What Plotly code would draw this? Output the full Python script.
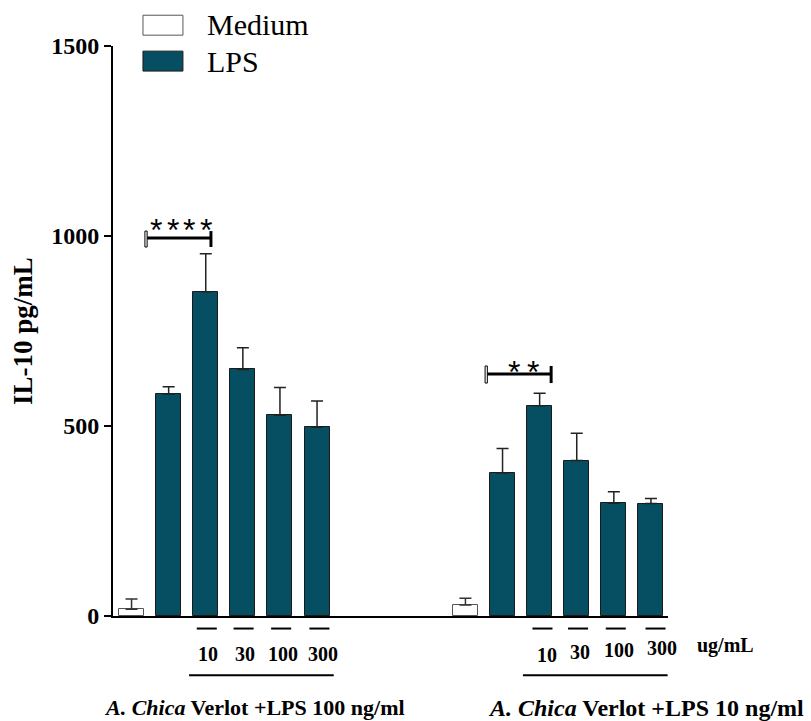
import plotly.graph_objects as go

# ---------------- data ----------------
doses = ["10", "30", "100", "300"]
group_labels = ["<i>A. Chica</i> Verlot +LPS 100 ng/ml", "<i>A. Chica</i> Verlot +LPS 10 ng/ml"]
unit_label = "ug/mL"

g1_medium = [18]
g1_medium_err = [27]
g1_lps = [584, 853, 649, 528, 497]
g1_lps_err = [19, 100, 57, 73, 69]

g2_medium = [29]
g2_medium_err = [18]
g2_lps = [376, 553, 409, 297, 296]
g2_lps_err = [65, 33, 72, 30, 13]

sig_g1 = "****"
sig_g2 = "**"

# ---------------- layout helpers ----------------
g1_x = [0, 1, 2, 3, 4, 5]
g2_x = [9, 10, 11, 12, 13, 14]
XMIN, XMAX = -0.5, 14.46
BAR_W = 0.674
TEAL = "#064F62"
SERIF = "Liberation Serif"

def d2p(u):
    return (u - XMIN) / (XMAX - XMIN)

fig = go.Figure()
fig.add_trace(go.Bar(
    x=[g1_x[0], g2_x[0]], y=g1_medium + g2_medium, width=BAR_W, name="Medium",
    marker=dict(color="white", line=dict(color="#555555", width=1)),
    error_y=dict(type="data", symmetric=False, array=g1_medium_err + g2_medium_err,
                 arrayminus=[0, 0], color="#333333", thickness=1.5, width=6),
    showlegend=False))
fig.add_trace(go.Bar(
    x=g1_x[1:] + g2_x[1:], y=g1_lps + g2_lps, width=BAR_W, name="LPS",
    marker=dict(color=TEAL, line=dict(color="#1a1a1a", width=1)),
    error_y=dict(type="data", symmetric=False, array=g1_lps_err + g2_lps_err,
                 arrayminus=[0] * 10, color="#222222", thickness=1.5, width=6),
    showlegend=False))

shapes = []
annotations = []

# legend (manual)
shapes.append(dict(type="rect", xref="paper", yref="paper", x0=0.054, x1=0.126, y0=1.019, y1=1.054,
                   fillcolor="white", line=dict(color="#555555", width=1)))
shapes.append(dict(type="rect", xref="paper", yref="paper", x0=0.054, x1=0.126, y0=0.956, y1=0.991,
                   fillcolor=TEAL, line=dict(color="#1a1a1a", width=1)))
annotations.append(dict(text="Medium", xref="paper", yref="paper", x=0.166, y=1.037, xanchor="left",
                        yanchor="middle", showarrow=False, font=dict(family=SERIF, size=30, color="black")))
annotations.append(dict(text="LPS", xref="paper", yref="paper", x=0.166, y=0.973, xanchor="left",
                        yanchor="middle", showarrow=False, font=dict(family=SERIF, size=30, color="black")))

# y-axis title
annotations.append(dict(text="<b>IL-10 pg/mL</b>", xref="paper", yref="paper", x=-0.162, y=0.5,
                        textangle=-90, showarrow=False, xanchor="center", yanchor="middle",
                        font=dict(family=SERIF, size=27, color="black")))

# dose dashes, labels, underline
label_dx_g1 = [0.07, 0.05, 0.08, 0.16]
label_dx_g2 = [0.19, 0.09, 0.13, 0.31]
label_y_g1 = [-0.067, -0.067, -0.067, -0.067]
label_y_g2 = [-0.069, -0.064, -0.060, -0.056]
for xs, dxs, lys in ((g1_x[2:], label_dx_g1, label_y_g1), (g2_x[2:], label_dx_g2, label_y_g2)):
    for xv, dx, ly, lab in zip(xs, dxs, lys, doses):
        shapes.append(dict(type="line", xref="paper", yref="paper", x0=d2p(xv - 0.27 + dx * 0.4),
                           x1=d2p(xv + 0.27 + dx * 0.4), y0=-0.022, y1=-0.022,
                           line=dict(color="black", width=2)))
        annotations.append(dict(text="<b>" + lab + "</b>", xref="paper", yref="paper", x=d2p(xv + dx),
                                y=ly, xanchor="center", yanchor="middle", showarrow=False,
                                font=dict(family=SERIF, size=20, color="black")))
    shapes.append(dict(type="line", xref="paper", yref="paper", x0=d2p(xs[0] - 0.45), x1=d2p(xs[-1] + 0.45),
                       y0=-0.104, y1=-0.104, line=dict(color="black", width=2)))

annotations.append(dict(text="<b>" + unit_label + "</b>", xref="paper", yref="paper", x=1.104, y=-0.051,
                        xanchor="center", yanchor="middle", showarrow=False,
                        font=dict(family=SERIF, size=20, color="black")))

# group labels
for xp, txt, fs in ((0.255, group_labels[0], 22), (0.961, group_labels[1], 24)):
    annotations.append(dict(text="<b>" + txt + "</b>", xref="paper", yref="paper", x=xp, y=-0.161,
                            xanchor="center", yanchor="middle", showarrow=False,
                            font=dict(family=SERIF, size=fs, color="black")))

# significance brackets
def bracket(x0, x1, yv, ycap0, ycap1, stars, star_x0, star_dx, star_y):
    shapes.append(dict(type="line", xref="x", yref="y", x0=x0, x1=x1, y0=yv, y1=yv,
                       line=dict(color="black", width=3)))
    shapes.append(dict(type="rect", xref="x", yref="y", x0=x0 - 0.03, x1=x0 + 0.03, y0=ycap0, y1=ycap1,
                       fillcolor="white", line=dict(color="black", width=1)))
    shapes.append(dict(type="rect", xref="x", yref="y", x0=x1 - 0.04, x1=x1 + 0.04, y0=ycap0, y1=ycap1,
                       fillcolor="black", line=dict(color="black", width=0)))
    for i, s in enumerate(stars):
        annotations.append(dict(text=s, xref="x", yref="y", x=star_x0 + i * star_dx, y=star_y,
                                xanchor="center", yanchor="middle", showarrow=False,
                                font=dict(family="Liberation Sans", size=32, color="black")))

bracket(0.39, 2.14, 995, 971, 1013, sig_g1, 0.66, 0.45, 1016)
bracket(9.56, 11.31, 637, 613, 658, sig_g2, 10.31, 0.5, 643)

fig.update_layout(
    width=811, height=721,
    margin=dict(l=113, r=143, t=46, b=105),
    paper_bgcolor="white", plot_bgcolor="white",
    bargap=0, shapes=shapes, annotations=annotations,
    xaxis=dict(range=[XMIN, XMAX], showline=True, linewidth=2, linecolor="black",
               showticklabels=False, ticks="", showgrid=False, zeroline=False),
    yaxis=dict(range=[0, 1500], tickvals=[0, 500, 1000, 1500], showline=True, linewidth=2,
               linecolor="black", ticks="outside", ticklen=7, tickwidth=2, tickcolor="black",
               showgrid=False, zeroline=False,
               tickfont=dict(family=SERIF, size=24, color="black", weight="bold")),
)

fig.write_html("out.html")
